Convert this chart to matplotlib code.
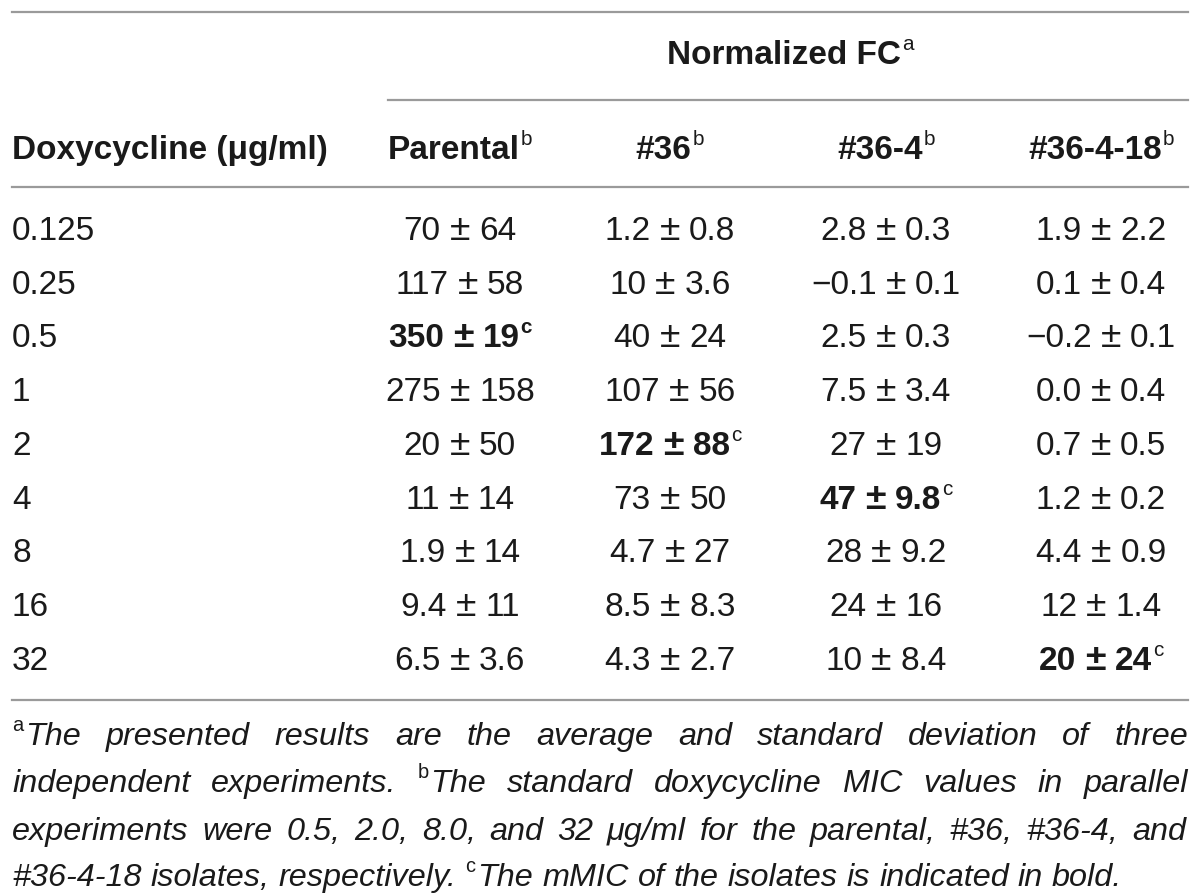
import matplotlib
matplotlib.use("Agg")
import matplotlib.pyplot as plt

# table values (mean, sd kept as text so the printed precision stays)
doses = ["0.125", "0.25", "0.5", "1", "2", "4", "8", "16", "32"]
columns = ["Parental", "#36", "#36-4", "#36-4-18"]
parental_mean = ["70", "117", "350", "275", "20", "11", "1.9", "9.4", "6.5"]
parental_sd = ["64", "58", "19", "158", "50", "14", "14", "11", "3.6"]
c36_mean = ["1.2", "10", "40", "107", "172", "73", "4.7", "8.5", "4.3"]
c36_sd = ["0.8", "3.6", "24", "56", "88", "50", "27", "8.3", "2.7"]
c364_mean = ["2.8", "\u22120.1", "2.5", "7.5", "27", "47", "28", "24", "10"]
c364_sd = ["0.3", "0.1", "0.3", "3.4", "19", "9.8", "9.2", "16", "8.4"]
c36418_mean = ["1.9", "0.1", "\u22120.2", "0.0", "0.7", "1.2", "4.4", "12", "20"]
c36418_sd = ["2.2", "0.4", "0.1", "0.4", "0.5", "0.2", "0.9", "1.4", "24"]
mmic_row = [2, 4, 5, 8]  # bold row per column

footnotes = [
    "^aThe presented results are the average and standard deviation of three",
    "independent experiments. ^bThe standard doxycycline MIC values in parallel",
    "experiments were 0.5, 2.0, 8.0, and 32 \u03bcg/ml for the parental, #36, #36-4, and",
    "#36-4-18 isolates, respectively. ^cThe mMIC of the isolates is indicated in bold.",
]

FONT = "Liberation Sans"
SIZE = 24
FOOT_SIZE = 23.3
LINE_COLOR = "#9a9a9a"
TXT = "#1a1a1a"

fig = plt.figure(figsize=(12, 8.93), dpi=100)
ax = fig.add_axes([0, 0, 1, 1])
ax.set_xlim(0, 1200)
ax.set_ylim(893, 0)
ax.axis("off")
renderer = fig.canvas.get_renderer()

em = SIZE * 100 / 72
half_cap = em * 0.358
sup_size = SIZE * 0.62
sup_rise = em * 0.42
pm_gap = 9


def width_of(t):
    return t.get_window_extent(renderer).width


def run(x, y, parts, ha="center"):
    # parts: (text, gap_before, dy, text kwargs)
    objs, ws, gaps = [], [], []
    for s, gap, dy, kw in parts:
        t = ax.text(0, y - dy, s, family=FONT, color=TXT,
                    va="baseline", ha="left", **kw)
        objs.append(t)
        ws.append(width_of(t))
        gaps.append(gap)
    total = sum(ws) + sum(gaps)
    x0 = x - total / 2 if ha == "center" else x
    for t, w, g in zip(objs, ws, gaps):
        x0 += g
        t.set_x(x0)
        x0 += w


def with_sup(x, y, main, sup, weight="bold", sup_weight="normal"):
    run(x, y, [(main, 0, 0, dict(fontsize=SIZE, fontweight=weight)),
               (sup, 1, sup_rise, dict(fontsize=sup_size, fontweight=sup_weight))])


# rules
ax.plot([12, 1188], [12, 12], color=LINE_COLOR, lw=1.6)
ax.plot([388, 1188], [100, 100], color=LINE_COLOR, lw=1.6)
ax.plot([12, 1188], [187, 187], color=LINE_COLOR, lw=1.6)
ax.plot([12, 1188], [700, 700], color=LINE_COLOR, lw=1.6)

col_x = [460, 670, 886, 1101]
row_y = [228 + i * 53.75 for i in range(len(doses))]

# header
with_sup(790, 52 + half_cap, "Normalized FC", "a")
ax.text(12, 147 + half_cap, "Doxycycline (\u03bcg/ml)", fontsize=SIZE,
        fontweight="bold", family=FONT, color=TXT, va="baseline", ha="left")
for cx, name in zip(col_x, columns):
    with_sup(cx, 147 + half_cap, name, "b")

# body
means = [parental_mean, c36_mean, c364_mean, c36418_mean]
sds = [parental_sd, c36_sd, c364_sd, c36418_sd]
for i, d in enumerate(doses):
    yb = row_y[i] + half_cap
    ax.text(12, yb, d, fontsize=SIZE, family=FONT, color=TXT,
            va="baseline", ha="left")
    for j in range(len(columns)):
        bold = mmic_row[j] == i
        kw = dict(fontsize=SIZE, fontweight="bold" if bold else "normal")
        pm_kw = dict(fontsize=SIZE * 1.12, fontweight="bold" if bold else "light")
        parts = [(means[j][i], 0, 0, kw), ("\u00b1", pm_gap, 0, pm_kw),
                 (sds[j][i], pm_gap, 0, kw)]
        if bold:
            sw = "bold" if j == 0 else "normal"
            parts.append(("c", 1, sup_rise,
                          dict(fontsize=sup_size, fontweight=sw)))
        run(col_x[j], yb, parts)

# footnotes, justified except the last line
foot_sup = FOOT_SIZE * 0.62
foot_rise = FOOT_SIZE * 100 / 72 * 0.42
left, right = 12, 1186
foot_base = [745, 792, 840, 886]


def make_word(word, y):
    objs = []
    if word.startswith("^"):
        objs.append(ax.text(0, y - foot_rise, word[1], fontsize=foot_sup,
                            family=FONT, color=TXT, va="baseline", ha="left"))
        word = word[2:]
    objs.append(ax.text(0, y, word, fontsize=FOOT_SIZE, fontstyle="italic",
                        family=FONT, color=TXT, va="baseline", ha="left"))
    ws = [width_of(o) for o in objs]
    return objs, ws


probe = ax.text(0, 0, "a a", fontsize=FOOT_SIZE, fontstyle="italic", family=FONT)
probe2 = ax.text(0, 0, "aa", fontsize=FOOT_SIZE, fontstyle="italic", family=FONT)
space_w = width_of(probe) - width_of(probe2)
probe.remove()
probe2.remove()

for k, line in enumerate(footnotes):
    y = foot_base[k]
    words = [make_word(w, y) for w in line.split(" ")]
    total = sum(sum(ws) for _, ws in words)
    if k < len(footnotes) - 1:
        gap = (right - left - total) / (len(words) - 1)
    else:
        gap = space_w
    x = left
    for objs, ws in words:
        for n, (o, w) in enumerate(zip(objs, ws)):
            o.set_x(x)
            x += w + (2 if n < len(objs) - 1 else 0)
        x += gap

fig.savefig("out.png", dpi=100)
